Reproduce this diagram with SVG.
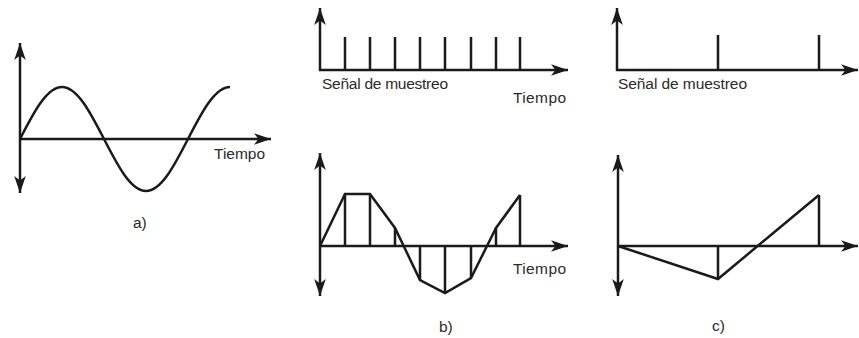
<svg xmlns="http://www.w3.org/2000/svg" width="859" height="338" viewBox="0 0 859 338">
<style>
.ln{fill:none;stroke:#1a1a1a;stroke-width:2.5;stroke-linejoin:miter}
.ax{fill:none;stroke:#1a1a1a;stroke-width:2.5}
.arr{marker-end:url(#ah)}
text{font-family:"Liberation Sans",Arial,sans-serif;font-size:15.5px;fill:#2a2a2a}
</style>
<defs>
<marker id="ah" markerUnits="userSpaceOnUse" markerWidth="20" markerHeight="14" viewBox="-18 -7 20 14" refX="0" refY="0" orient="auto">
<path d="M0,0 L-17,-5.8 L-12.5,0 L-17,5.8 Z" fill="#1a1a1a"/>
</marker>
</defs>
<g id="panel-a">
<line class="ax arr" x1="20" y1="120" x2="20" y2="43"/>
<line class="ax arr" x1="20" y1="120" x2="20" y2="193"/>
<line class="ax arr" x1="20" y1="139" x2="271" y2="139"/>
<path class="ln" d="M20,139 C33.7,112.36 46.8,87 62,87 C77.2,87 90.3,112.36 104,139 C117.7,165.64 130.8,191 146,191 C161.2,191 174.3,165.64 188,139 C201.7,112.36 214.8,87 230,87"/>
<text x="214" y="159" textLength="51">Tiempo</text>
<text x="133" y="228">a)</text>
</g>
<g id="sampling-b">
<line class="ax arr" x1="320" y1="71" x2="320" y2="8"/>
<line class="ax arr" x1="319" y1="70" x2="568" y2="70"/>
<path class="ln" d="M345,70V37M370,70V37M395,70V37M420,70V37M445,70V37M471,70V37M496,70V37M520,70V37"/>
<text x="322" y="89" textLength="126">Señal de muestreo</text>
<text x="513" y="103" textLength="53">Tiempo</text>
</g>
<g id="sampling-c">
<line class="ax arr" x1="617" y1="71" x2="617" y2="8"/>
<line class="ax arr" x1="616" y1="70" x2="858" y2="70"/>
<path class="ln" d="M718,70V35M819,70V35"/>
<text x="618" y="89" textLength="129">Señal de muestreo</text>
</g>
<g id="panel-b">
<line class="ax arr" x1="320" y1="230" x2="320" y2="153"/>
<line class="ax arr" x1="320" y1="230" x2="320" y2="296"/>
<line class="ax arr" x1="320" y1="246" x2="568" y2="246"/>
<path class="ln" d="M320,246 L345,194 L370,194 L395,228 L420,280 L445,293 L471,278 L496,228 L520,195"/>
<path class="ln" d="M345,246V194M370,246V194M395,246V228M420,246V280M445,246V293M471,246V278M496,246V228M520,246V195"/>
<text x="513" y="274" textLength="53">Tiempo</text>
<text x="439" y="332">b)</text>
</g>
<g id="panel-c">
<line class="ax arr" x1="618" y1="230" x2="618" y2="155"/>
<line class="ax arr" x1="618" y1="230" x2="618" y2="296"/>
<line class="ax arr" x1="618" y1="246" x2="858" y2="246"/>
<path class="ln" d="M618,246 L718,279 L819,195"/>
<path class="ln" d="M718,246V279M819,246V195"/>
<text x="712" y="331">c)</text>
</g>
</svg>
